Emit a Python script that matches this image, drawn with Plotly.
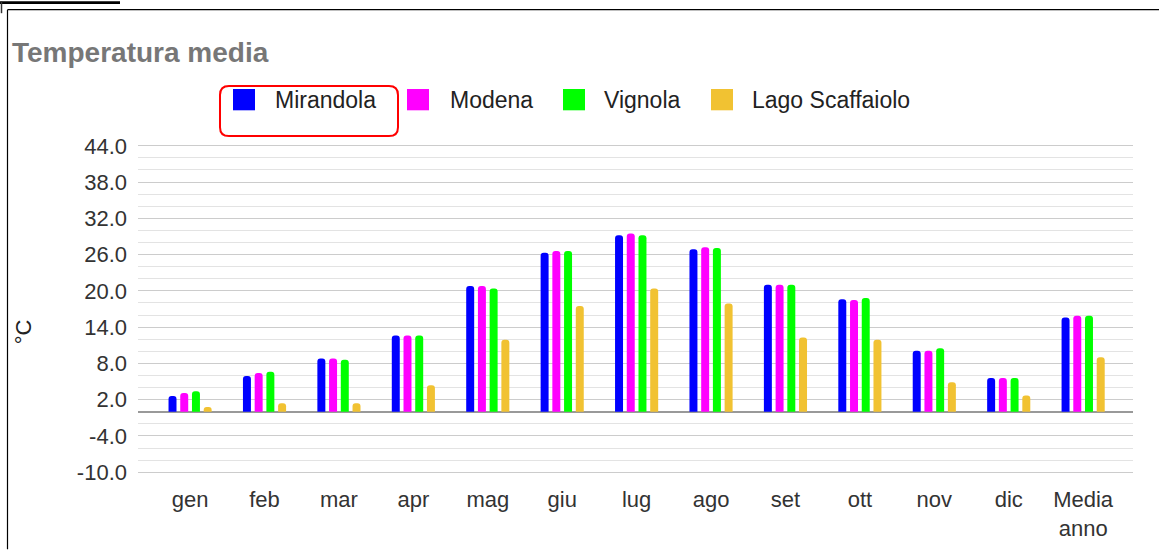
import plotly.graph_objects as go

# ---- data ----
months = ["gen", "feb", "mar", "apr", "mag", "giu", "lug", "ago", "set", "ott", "nov", "dic", "Media<br>anno"]
mirandola = [2.6, 5.9, 8.8, 12.6, 20.8, 26.3, 29.2, 26.9, 21.0, 18.6, 10.1, 5.6, 15.6]
modena = [3.1, 6.4, 8.8, 12.6, 20.8, 26.6, 29.5, 27.2, 21.0, 18.5, 10.1, 5.6, 15.9]
vignola = [3.4, 6.6, 8.6, 12.6, 20.4, 26.6, 29.2, 27.1, 21.0, 18.8, 10.5, 5.6, 15.9]
lago = [0.8, 1.4, 1.4, 4.4, 11.9, 17.5, 20.4, 17.9, 12.3, 11.9, 4.9, 2.7, 9.0]

series_names = ["Mirandola", "Modena", "Vignola", "Lago Scaffaiolo"]
series_values = [mirandola, modena, vignola, lago]
series_colors = ["#0000ff", "#ff00ff", "#00ff00", "#f1c232"]

y_tickvals = [-10, -4, 2, 8, 14, 20, 26, 32, 38, 44]
y_ticktext = ["-10.0", "-4.0", "2.0", "8.0", "14.0", "20.0", "26.0", "32.0", "38.0", "44.0"]

title_text = "Temperatura media"
y_title = "°C"

# ---- layout geometry (pixels) ----
W, H = 1159, 553
L, R, T, B = 138, 26, 144, 76
PW = W - L - R
PH = H - T - B
FONT = "Liberation Sans, Arial, sans-serif"


def px(x):
    return (x - L) / PW


def py(y):
    return (H - B - y) / PH


fig = go.Figure()
for name, vals, col in zip(series_names, series_values, series_colors):
    fig.add_trace(go.Bar(
        x=months, y=vals, name=name, showlegend=False,
        marker=dict(color=col, line=dict(width=0), cornerradius="45%"),
    ))

shapes = []
annotations = []

# page border lines
shapes.append(dict(type="line", xref="paper", yref="paper",
                   x0=px(7.5), x1=px(1159), y0=py(8.5), y1=py(8.5),
                   line=dict(color="black", width=1.2)))
shapes.append(dict(type="line", xref="paper", yref="paper",
                   x0=px(7.5), x1=px(7.5), y0=py(8.5), y1=py(553),
                   line=dict(color="black", width=1.2)))
shapes.append(dict(type="rect", xref="paper", yref="paper",
                   x0=px(0), x1=px(120), y0=py(0), y1=py(2.7),
                   fillcolor="black", line=dict(width=0)))
shapes.append(dict(type="line", xref="paper", yref="paper",
                   x0=px(1.5), x1=px(1.5), y0=py(0), y1=py(12),
                   line=dict(color="#333", width=1.5)))

# legend (manual)
sq = [(233, 255), (407, 429), (563, 585), (711, 733)]
tx = [273, 448, 602, 750]
for (a, b), t, name, col in zip(sq, tx, series_names, series_colors):
    shapes.append(dict(type="rect", xref="paper", yref="paper",
                       x0=px(a), x1=px(b), y0=py(88.5), y1=py(110),
                       fillcolor=col, line=dict(width=0)))
    annotations.append(dict(xref="paper", yref="paper", x=px(t), y=py(100),
                            xanchor="left", yanchor="middle", showarrow=False,
                            text=name, font=dict(family=FONT, size=23, color="#222222")))

# red rounded rectangle around the first legend item
x0, x1, y0, y1 = 220, 398, 85.5, 136
r = 9


def P(x, y):
    return f"{px(x):.6f},{py(y):.6f}"


path = (f"M{P(x0 + r, y0)} L{P(x1 - r, y0)} Q{P(x1, y0)} {P(x1, y0 + r)} "
        f"L{P(x1, y1 - r)} Q{P(x1, y1)} {P(x1 - r, y1)} "
        f"L{P(x0 + r, y1)} Q{P(x0, y1)} {P(x0, y1 - r)} "
        f"L{P(x0, y0 + r)} Q{P(x0, y0)} {P(x0 + r, y0)} Z")
shapes.append(dict(type="path", xref="paper", yref="paper", path=path,
                   line=dict(color="#ff0000", width=2)))

# title
annotations.append(dict(xref="paper", yref="paper", x=px(9.5), y=py(52),
                        xanchor="left", yanchor="middle", showarrow=False,
                        text="<b>" + title_text + "</b>",
                        font=dict(family=FONT, size=28, color="#777777")))
# y axis title
annotations.append(dict(xref="paper", yref="paper", x=px(23), y=py(334),
                        xanchor="center", yanchor="middle", showarrow=False,
                        textangle=-90, text=y_title,
                        font=dict(family=FONT, size=22, color="#222222")))

fig.update_layout(
    width=W, height=H,
    margin=dict(l=L, r=R, t=T, b=B, pad=0),
    paper_bgcolor="white", plot_bgcolor="white",
    barmode="group", bargap=0.37, bargroupgap=0.32,
    showlegend=False,
    shapes=shapes, annotations=annotations,
    font=dict(family=FONT, size=22, color="#333333"),
)
fig.update_xaxes(
    type="category", range=[-0.7, 12.67], showgrid=False, showline=False,
    zeroline=False, ticks="", ticklabelstandoff=10,
    tickfont=dict(family=FONT, size=22, color="#333333"),
)
fig.update_yaxes(
    range=[-10.3, 44.3], tickmode="array", tickvals=y_tickvals, ticktext=y_ticktext,
    showgrid=True, gridcolor="#cccccc", gridwidth=1.3,
    minor=dict(dtick=2, tick0=0, showgrid=True, gridcolor="#e3e3e3", gridwidth=1.3),
    zeroline=True, zerolinecolor="#999999", zerolinewidth=2,
    showline=False, ticks="", ticklabelstandoff=10,
    tickfont=dict(family=FONT, size=22, color="#333333"),
)

fig.write_html(
    "out.html",
    config={"displayModeBar": False},
    post_script="document.body.style.margin='0';document.body.style.overflow='hidden';",
)
